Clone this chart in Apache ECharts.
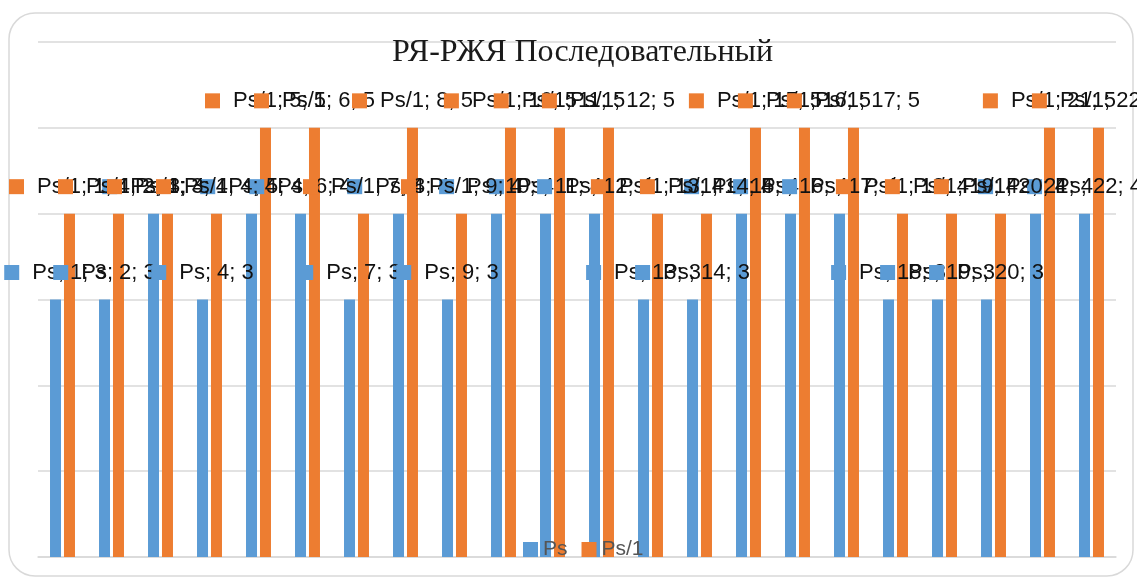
<!DOCTYPE html>
<html>
<head>
    <meta charset="utf-8">
    <title>РЯ-РЖЯ Последовательный</title>
    <script src="https://cdn.jsdelivr.net/npm/echarts@6/dist/echarts.min.js"></script>
    <style>
        html, body { margin: 0; padding: 0; background: #fff; }
        #main { width: 1137px; height: 578px; }
    </style>
</head>
<body>
<div id="main"></div>
<script>
    // данные
    var categories = ['1', '2', '3', '4', '5', '6', '7', '8', '9', '10', '11',
        '12', '13', '14', '15', '16', '17', '18', '19', '20', '21', '22'];
    var psValues = [3, 3, 4, 3, 4, 4, 3, 4, 3, 4, 4, 4, 3, 3, 4, 4, 4, 3, 3, 3, 4, 4];
    var ps1Values = [4, 4, 4, 4, 5, 5, 4, 5, 4, 5, 5, 5, 4, 4, 5, 5, 5, 4, 4, 4, 5, 5];

    var blue = '#5B9BD5';
    var orange = '#ED7D31';

    // подпись как в Excel: ключ легенды + "Ряд; Категория; Значение"
    function makeLabel(color) {
        return {
            show: true,
            position: 'top',
            distance: 16,
            formatter: function (p) {
                return '{k|}{t|' + p.seriesName + '; ' + p.name + '; ' + p.value + '}';
            },
            rich: {
                k: { width: 15, height: 15, backgroundColor: color },
                t: { fontFamily: 'Liberation Sans', fontSize: 22, color: '#111', padding: [0, 0, 0, 13] }
            }
        };
    }

    var myChart = echarts.init(document.getElementById('main'));
    myChart.setOption({
        animation: false,
        title: {
            text: 'РЯ-РЖЯ Последовательный',
            left: 387,
            top: 32,
            textStyle: { fontFamily: 'Liberation Serif', fontSize: 32, fontWeight: 'normal', color: '#1a1a1a' }
        },
        legend: {
            data: ['Ps', 'Ps/1'],
            left: 518,
            top: 534,
            itemWidth: 15,
            itemHeight: 15,
            itemGap: 14,
            icon: 'rect',
            textStyle: { fontFamily: 'Liberation Sans', fontSize: 21, color: '#555' }
        },
        grid: { left: 38, right: 21, top: 42, bottom: 21 },
        xAxis: {
            type: 'category',
            data: categories,
            axisLine: { lineStyle: { color: '#d9d9d9', width: 1.5 } },
            axisTick: { show: false },
            axisLabel: { show: false }
        },
        yAxis: {
            type: 'value',
            min: 0,
            max: 6,
            interval: 1,
            axisLabel: { show: false },
            splitLine: { lineStyle: { color: '#d9d9d9', width: 1.5 } }
        },
        series: [
            {
                name: 'Ps',
                type: 'bar',
                data: psValues,
                barWidth: 11,
                barGap: '27%',
                itemStyle: { color: blue },
                label: makeLabel(blue)
            },
            {
                name: 'Ps/1',
                type: 'bar',
                data: ps1Values,
                barWidth: 11,
                barGap: '27%',
                itemStyle: { color: orange },
                label: makeLabel(orange)
            }
        ],
        graphic: [{
            type: 'rect',
            silent: true,
            z: -1,
            shape: { x: 9, y: 13, width: 1124, height: 563, r: 26 },
            style: { fill: 'none', stroke: '#d9d9d9', lineWidth: 1.5 }
        }]
    });
</script>
</body>
</html>
